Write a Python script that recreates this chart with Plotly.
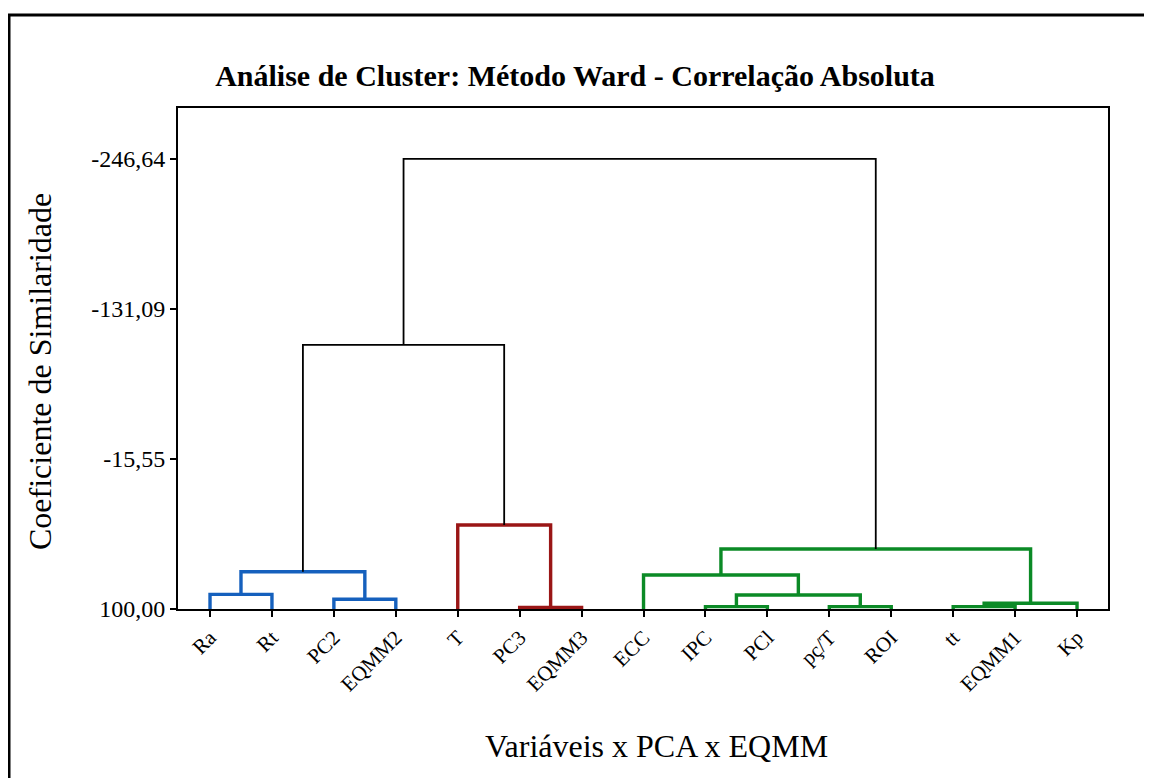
import plotly.graph_objects as go

# ---- data ----
leaves = ["Ra", "Rt", "PC2", "EQMM2", "T", "PC3", "EQMM3", "ECC", "IPC", "PCl",
          "pç/T", "ROI", "tt", "EQMM1", "Kp"]
# merges: (left node, right node, similarity level); new nodes numbered from len(leaves)
merge_left = [5, 8, 10, 12, 18, 2, 16, 0, 7, 22, 23, 4, 24, 27]
merge_right = [6, 9, 11, 13, 14, 3, 17, 1, 21, 20, 19, 15, 26, 25]
merge_level = [98.8, 98.2, 98.2, 98.2, 95.6, 92.5, 89.2, 88.7, 73.8, 71.3, 53.8, 35.3, -103.4, -246.64]
merge_group = ["r", "g", "g", "g", "g", "b", "g", "b", "g", "b", "g", "r", "k", "k"]
y_ticks = [100.00, -15.55, -131.09, -246.64]
y_tick_text = ["100,00", "-15,55", "-131,09", "-246,64"]

colors = {"b": "#1560BD", "r": "#9A1616", "g": "#0B8A26", "k": "#000000"}
widths = {"b": 3.4, "r": 3.4, "g": 3.4, "k": 1.8}

n = len(leaves)
node_x = {i: float(i) for i in range(n)}
node_y = {i: 100.0 for i in range(n)}

fig = go.Figure()
for k, (a, b, h, g) in enumerate(zip(merge_left, merge_right, merge_level, merge_group)):
    xa, xb = node_x[a], node_x[b]
    fig.add_trace(go.Scatter(
        x=[xa, xa, xb, xb], y=[node_y[a], h, h, node_y[b]],
        mode="lines", line=dict(color=colors[g], width=widths[g]),
        hoverinfo="skip", showlegend=False))
    node_x[n + k] = (xa + xb) / 2
    node_y[n + k] = h

FONT = "Liberation Serif"
OFF = 8  # page body margin
W, H = 1152 - OFF, 778 - OFF
L, R, T, B = 178 - OFF, 44, 108 - OFF, 169
pw, ph = W - L - R, H - T - B

def px(xp):  # page pixel -> paper x
    return (xp - OFF - L) / pw

def py(yp):  # page pixel -> paper y
    return (H - B - (yp - OFF)) / ph

fig.update_layout(
    width=W, height=H,
    margin=dict(l=L, r=R, t=T, b=B),
    paper_bgcolor="white", plot_bgcolor="white",
    font=dict(family=FONT, color="black"),
    title=dict(text="<b>Análise de Cluster: Método Ward - Correlação Absoluta</b>",
               x=(575 - OFF) / W, y=1 - (75 - OFF) / H, xanchor="center", yanchor="middle",
               font=dict(family=FONT, size=30, color="black")),
    xaxis=dict(range=[-0.517, 14.5], tickmode="array", tickvals=list(range(n)),
               ticktext=leaves, tickangle=-45, ticks="outside", ticklen=6,
               tickwidth=2, tickcolor="black", showgrid=False, zeroline=False,
               showline=True, linecolor="black", linewidth=2, mirror=True,
               tickfont=dict(family=FONT, size=21, color="black")),
    yaxis=dict(range=[100, -285.9], tickmode="array", tickvals=y_ticks,
               ticktext=y_tick_text, ticks="outside", ticklen=6, tickwidth=2,
               tickcolor="black", showgrid=False, zeroline=False,
               showline=True, linecolor="black", linewidth=2, mirror=True,
               tickfont=dict(family=FONT, size=24, color="black")),
    annotations=[
        dict(text="Coeficiente de Similaridade", xref="paper", yref="paper",
             x=px(40), y=py(372), textangle=-90, showarrow=False,
             xanchor="center", yanchor="middle",
             font=dict(family=FONT, size=32, color="black")),
        dict(text="Variáveis x PCA x EQMM", xref="paper", yref="paper",
             x=px(656), y=py(746), showarrow=False,
             xanchor="center", yanchor="middle",
             font=dict(family=FONT, size=32, color="black")),
    ],
    shapes=[
        dict(type="path", xref="paper", yref="paper",
             path=f"M {px(9)} {py(800)} L {px(9)} {py(15)} L {px(1170)} {py(15)}",
             line=dict(color="black", width=3)),
    ],
)

fig.write_html("out.html")
